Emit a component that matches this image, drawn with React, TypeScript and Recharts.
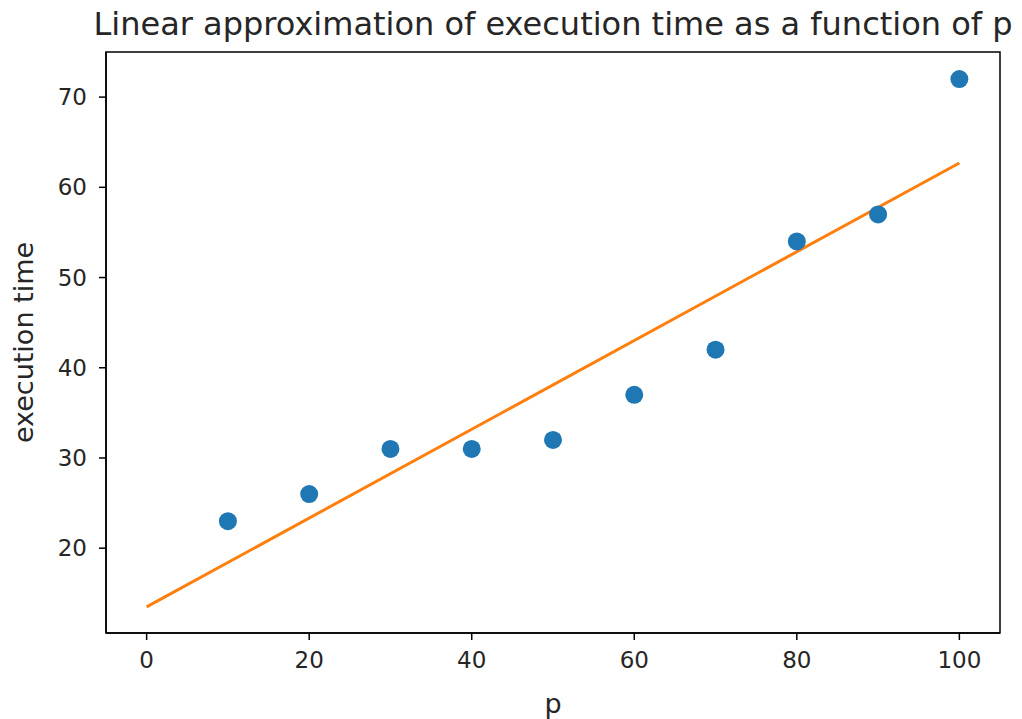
import React from 'react';
import { ComposedChart, Scatter, Line, XAxis, YAxis, ReferenceArea, Label } from 'recharts';

const pValues = [10, 20, 30, 40, 50, 60, 70, 80, 90, 100];
const execTimes = [23, 26, 31, 31, 32, 37, 42, 54, 57, 72];
const fitX = [0, 100];
const fitY = [13.5, 62.7];
const xTicks = [0, 20, 40, 60, 80, 100];
const yTicks = [20, 30, 40, 50, 60, 70];

const scatterData = pValues.map((x, i) => ({ x, y: execTimes[i] }));
const lineData = fitX.map((x, i) => ({ x, y: fitY[i] }));

const FONT = "'DejaVu Sans', sans-serif";
const TEXT = '#262626';

const Dot = (props: any) => {
  const { cx, cy } = props;
  if (cx == null || cy == null) return null;
  return <circle cx={cx} cy={cy} r={9} fill="#1f77b4" />;
};

export default function App() {
  return (
    <div style={{ position: 'absolute', left: 0, top: 0, width: 1022, height: 719, background: '#fff' }}>
      <svg width={1022} height={719} style={{ position: 'absolute', left: 0, top: 0, pointerEvents: 'none' }}>
        <text x={553} y={35} textAnchor="middle" fontFamily={FONT} fontSize={32} fill={TEXT}>
          Linear approximation of execution time as a function of p
        </text>
      </svg>
      <ComposedChart
        width={1022}
        height={719}
        margin={{ top: 52, right: 22, bottom: 0, left: 46 }}
        style={{ position: 'absolute', left: 0, top: 0 }}
      >
        <XAxis
          dataKey="x"
          type="number"
          domain={[-5, 105]}
          ticks={xTicks}
          allowDataOverflow
          height={86}
          tickSize={7}
          tickMargin={12}
          axisLine={{ stroke: '#000', strokeWidth: 1.5 }}
          tickLine={{ stroke: '#000', strokeWidth: 1.5 }}
          tick={{ fill: TEXT, fontSize: 23, fontFamily: FONT }}
        >
          <Label value="p" position="insideBottom" offset={6} fill={TEXT} fontSize={27} fontFamily={FONT} />
        </XAxis>
        <YAxis
          dataKey="y"
          type="number"
          domain={[10.6, 75]}
          ticks={yTicks}
          allowDataOverflow
          width={60}
          tickSize={7}
          tickMargin={12}
          axisLine={{ stroke: '#000', strokeWidth: 1.5 }}
          tickLine={{ stroke: '#000', strokeWidth: 1.5 }}
          tick={{ fill: TEXT, fontSize: 23, fontFamily: FONT }}
        >
          <Label
            value="execution time"
            angle={-90}
            position="insideLeft"
            offset={-23}
            fill={TEXT}
            fontSize={27}
            fontFamily={FONT}
            style={{ textAnchor: 'middle' }}
          />
        </YAxis>
        <ReferenceArea x1={-5} x2={105} y1={10.6} y2={75} fill="none" stroke="#000" strokeWidth={1.5} ifOverflow="extendDomain" />
        <Scatter data={scatterData} dataKey="y" shape={<Dot />} isAnimationActive={false} />
        <Line data={lineData} dataKey="y" stroke="#ff7f0e" strokeWidth={3} dot={false} activeDot={false} isAnimationActive={false} />
      </ComposedChart>
    </div>
  );
}
